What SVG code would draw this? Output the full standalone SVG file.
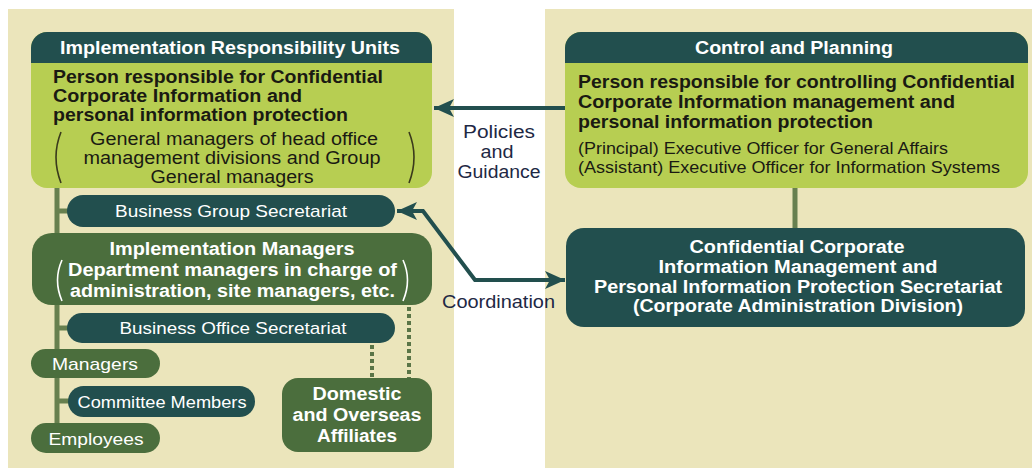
<svg xmlns="http://www.w3.org/2000/svg" width="1032" height="468" viewBox="0 0 1032 468">
<defs>
<style>
.panel{fill:#ebe5bb}
.teal{fill:#224f4e}
.lg{fill:#b7ce52}
.dg{fill:#4b6e3d}
text{font-family:"Liberation Sans",Arial,Helvetica,sans-serif}
.hw{fill:#fff;font-weight:bold;font-size:17.5px}
.wr{fill:#fff;font-size:17px}
.wb{fill:#fff;font-weight:bold;font-size:17.5px}
.db{fill:#1a1a12;font-weight:bold;font-size:18px}
.dr{fill:#1a1a12;font-size:17.5px}
.lbl{fill:#1e2844;font-size:17.5px}
.par{fill:none;stroke:#3a3a1c;stroke-width:1.6}
.parw{fill:none;stroke:#fff;stroke-width:1.6}
.trunk{fill:none;stroke:#67804f;stroke-width:5}
.dot{fill:none;stroke:#5a7547;stroke-width:4;stroke-dasharray:4 3}
.arr{fill:none;stroke:#224f4e;stroke-width:4}
</style>
<marker id="ah" markerUnits="userSpaceOnUse" markerWidth="22" markerHeight="18" refX="20" refY="9" orient="auto-start-reverse">
<path d="M0,0 L20,9 L0,18 L5,9 Z" fill="#224f4e"/>
</marker>
</defs>

<rect class="panel" x="8" y="9" width="446" height="459"/>
<rect class="panel" x="545" y="9" width="487" height="459"/>

<g id="connectors">
<line class="trunk" x1="57" y1="186" x2="57" y2="430"/>
<line class="trunk" x1="57" y1="211" x2="68" y2="211"/>
<line class="trunk" x1="57" y1="328" x2="68" y2="328"/>
<line class="trunk" x1="57" y1="401" x2="69" y2="401"/>
<line class="dot" x1="372" y1="345" x2="372" y2="378"/>
<line class="dot" x1="409" y1="307" x2="409" y2="378"/>
<line class="trunk" x1="795" y1="186" x2="795" y2="230"/>
<line class="arr" x1="565" y1="108" x2="434" y2="108" marker-end="url(#ah)"/>
<path class="arr" d="M397,211 H423 L475,280 H565" marker-start="url(#ah)" marker-end="url(#ah)"/>
<text class="lbl" x="499" y="138" text-anchor="middle" textLength="72" lengthAdjust="spacingAndGlyphs">Policies</text>
<text class="lbl" x="497" y="158" text-anchor="middle" textLength="33" lengthAdjust="spacingAndGlyphs">and</text>
<text class="lbl" x="499" y="178" text-anchor="middle" textLength="83" lengthAdjust="spacingAndGlyphs">Guidance</text>
<text class="lbl" x="498.5" y="308" text-anchor="middle" textLength="113" lengthAdjust="spacingAndGlyphs">Coordination</text>
</g>

<g id="node-implementation-units">
<rect class="lg" x="31" y="32" width="401" height="156" rx="16"/>
<path class="teal" d="M31,63 V48 A16,16 0 0 1 47,32 H416 A16,16 0 0 1 432,48 V63 Z"/>
<text class="hw" x="230" y="54" text-anchor="middle" textLength="340" lengthAdjust="spacingAndGlyphs">Implementation Responsibility Units</text>
<text class="db" x="53" y="83" textLength="330" lengthAdjust="spacingAndGlyphs">Person responsible for Confidential</text>
<text class="db" x="53" y="102" textLength="249" lengthAdjust="spacingAndGlyphs">Corporate Information and</text>
<text class="db" x="53" y="121" textLength="295" lengthAdjust="spacingAndGlyphs">personal information protection</text>
<path class="par" d="M61,132 Q51,157 61,183"/>
<path class="par" d="M409,132 Q419,157 409,183"/>
<text class="dr" x="234" y="145" text-anchor="middle" textLength="288" lengthAdjust="spacingAndGlyphs">General managers of head office</text>
<text class="dr" x="232" y="164" text-anchor="middle" textLength="297" lengthAdjust="spacingAndGlyphs">management divisions and Group</text>
<text class="dr" x="232" y="183" text-anchor="middle" textLength="163" lengthAdjust="spacingAndGlyphs">General managers</text>
</g>

<g id="node-business-group-secretariat">
<rect class="teal" x="67" y="195" width="328" height="32" rx="16"/>
<text class="wr" x="231" y="217" text-anchor="middle" textLength="232" lengthAdjust="spacingAndGlyphs">Business Group Secretariat</text>
</g>

<g id="node-implementation-managers">
<rect class="dg" x="32" y="233" width="400" height="72" rx="20"/>
<text class="wb" x="232" y="255" text-anchor="middle" textLength="245" lengthAdjust="spacingAndGlyphs">Implementation Managers</text>
<text class="wb" x="232.5" y="276" text-anchor="middle" textLength="329" lengthAdjust="spacingAndGlyphs">Department managers in charge of</text>
<text class="wb" x="232.5" y="297" text-anchor="middle" textLength="325" lengthAdjust="spacingAndGlyphs">administration, site managers, etc.</text>
<path class="parw" d="M62,260 Q53,280 62,301"/>
<path class="parw" d="M403,260 Q412,280 403,301"/>
</g>

<g id="node-business-office-secretariat">
<rect class="teal" x="67" y="313" width="328" height="30" rx="15"/>
<text class="wr" x="233" y="334" text-anchor="middle" textLength="227" lengthAdjust="spacingAndGlyphs">Business Office Secretariat</text>
</g>

<g id="node-managers">
<rect class="dg" x="31" y="349" width="129" height="29" rx="14.5"/>
<text class="wr" x="52" y="370" textLength="86" lengthAdjust="spacingAndGlyphs">Managers</text>
</g>

<g id="node-committee-members">
<rect class="teal" x="68" y="386" width="187" height="31" rx="15.5"/>
<text class="wr" x="162" y="408" text-anchor="middle" textLength="169" lengthAdjust="spacingAndGlyphs">Committee Members</text>
</g>

<g id="node-employees">
<rect class="dg" x="31" y="423" width="129" height="30" rx="15"/>
<text class="wr" x="96" y="445" text-anchor="middle" textLength="95" lengthAdjust="spacingAndGlyphs">Employees</text>
</g>

<g id="node-affiliates">
<rect class="dg" x="282" y="378" width="150" height="74" rx="16"/>
<text class="wb" x="357" y="400" text-anchor="middle" textLength="89" lengthAdjust="spacingAndGlyphs">Domestic</text>
<text class="wb" x="357" y="421" text-anchor="middle" textLength="129" lengthAdjust="spacingAndGlyphs">and Overseas</text>
<text class="wb" x="357" y="442" text-anchor="middle" textLength="80" lengthAdjust="spacingAndGlyphs">Affiliates</text>
</g>

<g id="node-control-planning">
<rect class="lg" x="565" y="32" width="463" height="156" rx="16"/>
<path class="teal" d="M565,63 V48 A16,16 0 0 1 581,32 H1012 A16,16 0 0 1 1028,48 V63 Z"/>
<text class="hw" x="794" y="54" text-anchor="middle" textLength="198" lengthAdjust="spacingAndGlyphs">Control and Planning</text>
<text class="db" x="578" y="88" textLength="437" lengthAdjust="spacingAndGlyphs">Person responsible for controlling Confidential</text>
<text class="db" x="578" y="108" textLength="377" lengthAdjust="spacingAndGlyphs">Corporate Information management and</text>
<text class="db" x="578" y="128" textLength="295" lengthAdjust="spacingAndGlyphs">personal information protection</text>
<text class="dr" x="578" y="154" textLength="370" lengthAdjust="spacingAndGlyphs" style="font-size:16.5px">(Principal) Executive Officer for General Affairs</text>
<text class="dr" x="578" y="173" textLength="422" lengthAdjust="spacingAndGlyphs" style="font-size:16.5px">(Assistant) Executive Officer for Information Systems</text>
</g>

<g id="node-secretariat">
<rect class="teal" x="566" y="228" width="459" height="99" rx="18"/>
<text class="wb" x="797" y="253" text-anchor="middle" textLength="215" lengthAdjust="spacingAndGlyphs">Confidential Corporate</text>
<text class="wb" x="798" y="273" text-anchor="middle" textLength="279" lengthAdjust="spacingAndGlyphs">Information Management and</text>
<text class="wb" x="798" y="293" text-anchor="middle" textLength="408" lengthAdjust="spacingAndGlyphs">Personal Information Protection Secretariat</text>
<text class="wb" x="798" y="312" text-anchor="middle" textLength="330" lengthAdjust="spacingAndGlyphs">(Corporate Administration Division)</text>
</g>
</svg>
